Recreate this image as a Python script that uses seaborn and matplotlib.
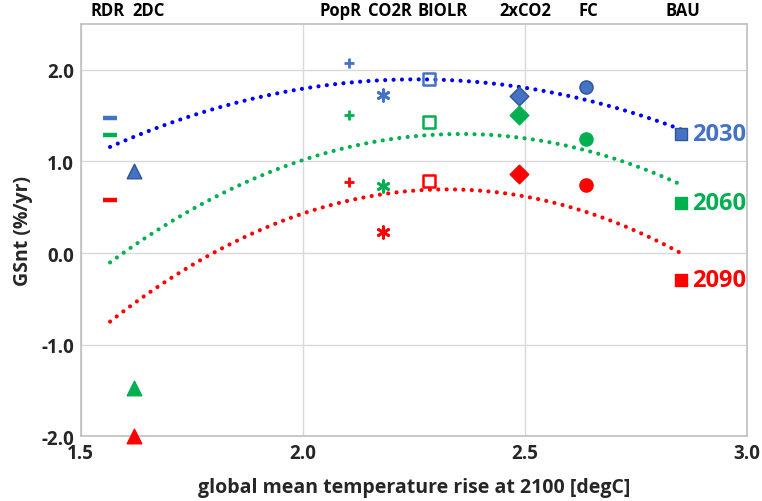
import numpy as np
import pandas as pd
import matplotlib
matplotlib.use('Agg')
import matplotlib.pyplot as plt
import matplotlib.transforms as mtransforms
from matplotlib import font_manager
import seaborn as sns

# scenario order as labelled along the top
scenarios = ['RDR', '2DC', 'PopR', 'CO2R', 'BIOLR', '2xCO2', 'FC', 'BAU']
temp_rise = [1.566, 1.62, 2.105, 2.18, 2.285, 2.486, 2.638, 2.851]
gsnt_2030 = [1.47, 0.90, 2.08, 1.73, 1.90, 1.72, 1.81, 1.30]
gsnt_2060 = [1.29, -1.47, 1.51, 0.73, 1.43, 1.51, 1.24, 0.55]
gsnt_2090 = [0.58, -2.00, 0.78, 0.23, 0.79, 0.86, 0.74, -0.29]
years = ['2030', '2060', '2090']
label_x = [1.561, 1.652, 2.086, 2.197, 2.314, 2.501, 2.643, 2.857]

marker_col = {'2030': '#4472C4', '2060': '#00B050', '2090': '#FF0000'}
trend_col = {'2030': '#0000FF', '2060': '#00B050', '2090': '#FF0000'}
edge_col = {'2030': '#2F5597', '2060': '#00B050', '2090': '#FF0000'}
markers = {'RDR': '_', '2DC': '^', 'PopR': '+', 'CO2R': (6, 2, 0), 'BIOLR': 's',
           '2xCO2': 'D', 'FC': 'o', 'BAU': 's'}
sizes = {'RDR': 110, '2DC': 110, 'PopR': 60, 'CO2R': 70, 'BIOLR': 70,
         '2xCO2': 90, 'FC': 90, 'BAU': 70}

df = pd.DataFrame({
    'scenario': scenarios * 3,
    'temp': temp_rise * 3,
    'year': [y for y in years for _ in scenarios],
    'gsnt': gsnt_2030 + gsnt_2060 + gsnt_2090,
})

sns.set_style('white')
names = {f.name for f in font_manager.fontManager.ttflist}
fam = 'Open Sans' if 'Open Sans' in names else 'DejaVu Sans'
plt.rcParams['font.family'] = [fam, 'DejaVu Sans']
plt.rcParams['font.weight'] = 'bold'
plt.rcParams['axes.labelweight'] = 'bold'

fig = plt.figure(figsize=(7.62, 5.02), dpi=100)
ax = fig.add_axes([0.106, 0.129, 0.874, 0.821])

for yr in years:
    sub = df[df['year'] == yr]
    sns.regplot(data=sub, x='temp', y='gsnt', order=2, ci=None, scatter=False, ax=ax,
                truncate=True,
                line_kws={'color': trend_col[yr], 'linewidth': 3,
                          'linestyle': (0, (0.01, 2.0)), 'dash_capstyle': 'round'})

for yr in years:
    for sc in scenarios:
        sub = df[(df['year'] == yr) & (df['scenario'] == sc)]
        m = markers[sc]
        if sc == 'BIOLR':
            kw = dict(facecolor='none', edgecolor=marker_col[yr], linewidth=1.8)
        elif sc in ('RDR', 'PopR', 'CO2R'):
            kw = dict(color=marker_col[yr], linewidth=3.2 if sc == 'RDR' else 2)
        else:
            kw = dict(color=marker_col[yr], edgecolor=edge_col[yr], linewidth=1)
        sns.scatterplot(data=sub, x='temp', y='gsnt', marker=m, s=sizes[sc], ax=ax,
                        legend=False, clip_on=False, zorder=4, **kw)

# year labels next to BAU points
bau = df[df['scenario'] == 'BAU']
for _, r in bau.iterrows():
    ax.annotate(r['year'], (r['temp'], r['gsnt']), xytext=(8, 0), textcoords='offset points',
                ha='left', va='center', fontsize=17, fontweight='bold', color=marker_col[r['year']])

# scenario names along the top
trans = mtransforms.blended_transform_factory(ax.transData, ax.transAxes)
for sc, lx in zip(scenarios, label_x):
    ax.text(lx, 1.012, sc, transform=trans, ha='center', va='bottom',
            fontsize=12, fontweight='bold', color='black')

ax.set_xlim(1.5, 3.0)
ax.set_ylim(-2.0, 2.5)
ax.set_xticks([1.5, 2.0, 2.5, 3.0])
ax.set_yticks([-2.0, -1.0, 0.0, 1.0, 2.0])
ax.set_xticklabels(['1.5', '2.0', '2.5', '3.0'])
ax.set_yticklabels(['-2.0', '-1.0', '0.0', '1.0', '2.0'])
ax.grid(True, color='#D9D9D9', linewidth=1)
ax.set_axisbelow(True)
for s in ax.spines.values():
    s.set_color('#BFBFBF')
    s.set_linewidth(1.2)
ax.tick_params(axis='both', length=0, labelsize=13.5, pad=5)
for lab in ax.get_xticklabels() + ax.get_yticklabels():
    lab.set_fontweight('bold')
ax.set_xlabel('global mean temperature rise at 2100 [degC]', fontsize=14, fontweight='bold', labelpad=10)
ax.set_ylabel('GSnt (%/yr)', fontsize=14, fontweight='bold', labelpad=6)

fig.savefig('out.png', dpi=100)
